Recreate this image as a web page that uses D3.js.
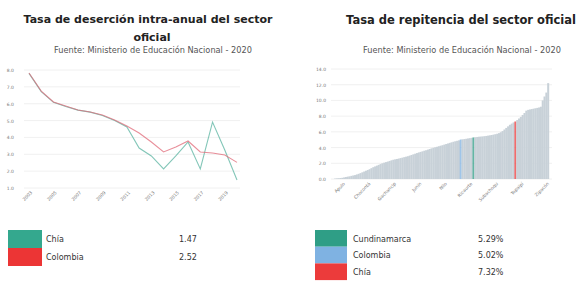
<!DOCTYPE html>
<html>
<head>
<meta charset="utf-8">
<script src="https://cdn.jsdelivr.net/npm/d3@7"></script>
<style>
  body { margin: 0; background: #fff; }
  text { font-family: "DejaVu Sans", sans-serif; }
</style>
</head>
<body>
<div id="chart"></div>
<script>
// left chart: intra-annual dropout
var years = ["2003","2004","2005","2006","2007","2008","2009","2010","2011",
             "2012","2013","2014","2015","2016","2017","2018","2019","2020"];
var colombia = [7.82, 6.75, 6.10, 5.86, 5.63, 5.51, 5.33, 5.03, 4.68,
                4.26, 3.73, 3.14, 3.43, 3.79, 3.14, 3.08, 2.96, 2.52];
var chia = [7.80, 6.72, 6.08, 5.84, 5.62, 5.50, 5.30, 5.00, 4.62,
            3.37, 2.90, 2.13, 2.90, 3.73, 2.13, 4.91, 3.25, 1.47];
var leftTicks = [1, 2, 3, 4, 5, 6, 7, 8];
var leftLegendNames = ["Chía", "Colombia"];
var leftLegendValues = ["1.47", "2.52"];

// right chart: repetition rate
var munis = ["Agua de Dios","Albán","Anapoima","Anolaima","Apulo","Arbeláez","Beltrán","Bituima",
  "Bojacá","Cabrera","Cachipay","Cajicá","Caparrapí","Cáqueza","Carmen de Carupa","Chaguaní",
  "Chipaque","Choachí","Chocontá","Cogua","Cota","Cucunubá","El Colegio","El Peñón","El Rosal",
  "Facatativá","Fómeque","Fosca","Funza","Fúquene","Fusagasugá","Gachalá","Gachancipá","Gachetá",
  "Gama","Girardot","Granada","Guachetá","Guaduas","Guasca","Guataquí","Guatavita","Guayabal de Síquima",
  "Guayabetal","Gutiérrez","Jerusalén","Junín","La Calera","La Mesa","La Palma","La Peña","La Vega",
  "Lenguazaque","Machetá","Madrid","Manta","Medina","Mosquera","Nariño","Nemocón","Nilo","Nimaima",
  "Nocaima","Pacho","Paime","Pandi","Paratebueno","Pasca","Puerto Salgar","Pulí","Quebradanegra",
  "Quetame","Quipile","Ricaurte","San Antonio del Tequendama","San Bernardo","San Cayetano",
  "San Francisco","San Juan de Rioseco","Sasaima","Sesquilé","Sibaté","Silvania","Simijaca","Soacha",
  "Sopó","Subachoque","Suesca","Supatá","Susa","Sutatausa","Tabio","Tausa","Tena","Tenjo","Tibacuy",
  "Tibirita","Tocaima","Tocancipá","Topaipí","Ubalá","Ubaque","Ubaté","Une","Útica","Venecia",
  "Vergara","Vianí","Villagómez","Villapinzón","Villeta","Viotá","Yacopí","Zipacón","Zipaquirá"];
var repValues = [
  0.05, 0.08, 0.10, 0.12, 0.15, 0.20, 0.25, 0.30, 0.34, 0.40,
  0.45, 0.50, 0.58, 0.66, 0.75, 0.85, 0.95, 1.05, 1.15, 1.25,
  1.38, 1.50, 1.60, 1.70, 1.80, 1.90, 2.00, 2.08, 2.15, 2.22,
  2.30, 2.38, 2.45, 2.50, 2.55, 2.60, 2.66, 2.72, 2.78, 2.84,
  2.90, 2.98, 3.06, 3.14, 3.22, 3.30, 3.38, 3.45, 3.52, 3.60,
  3.66, 3.74, 3.82, 3.90, 3.97, 4.04, 4.10, 4.17, 4.24, 4.30,
  4.38, 4.45, 4.52, 4.60, 4.67, 4.74, 4.80, 4.86, 4.92, 5.02,
  5.05, 5.08, 5.12, 5.16, 5.20, 5.24, 5.29, 5.32, 5.35, 5.38,
  5.40, 5.42, 5.45, 5.48, 5.52, 5.56, 5.60, 5.65, 5.70, 5.76,
  5.84, 5.95, 6.10, 6.30, 6.50, 6.70, 6.90, 7.05, 7.20, 7.32,
  7.50, 7.70, 7.90, 8.15, 8.40, 8.70, 8.80, 8.85, 8.90, 8.95,
  9.00, 9.05, 9.10, 9.20, 10.00, 10.50, 11.00, 12.20];
var rightTicks = [0, 2, 4, 6, 8, 10, 12, 14];
var rightLegendNames = ["Cundinamarca", "Colombia", "Chía"];
var rightLegendValues = ["5.29%", "5.02%", "7.32%"];

// build bar categories: municipalities plus the two aggregates, in value order
var repNames = munis.slice();
repNames.splice(69, 0, "Colombia");
repNames.splice(76, 0, "Cundinamarca");
repNames.splice(99, 0, "Chía");
var repData = repNames.map(function(n, i) { return {name: n, value: repValues[i]}; });

var highlight = {"Cundinamarca": "#2f9e86", "Colombia": "#7fb2e2", "Chía": "#ec3b3b"};
var teal = "#34a88e", red = "#ec3535";

var svg = d3.select("#chart").append("svg")
    .attr("width", 584).attr("height", 281);

// ---------- left chart ----------
svg.append("text").attr("x", 148).attr("y", 23).attr("text-anchor", "middle")
    .style("font-size", "11px").style("font-weight", "bold").attr("fill", "#222")
    .text("Tasa de deserción intra-anual del sector");
svg.append("text").attr("x", 152).attr("y", 41).attr("text-anchor", "middle")
    .style("font-size", "11px").style("font-weight", "bold").attr("fill", "#222")
    .text("oficial");
svg.append("text").attr("x", 153).attr("y", 53).attr("text-anchor", "middle")
    .style("font-size", "8.2px").attr("fill", "#555")
    .text("Fuente: Ministerio de Educación Nacional - 2020");

var xL = d3.scalePoint().domain(years).range([29, 237]);
var yL = d3.scaleLinear().domain([1, 8]).range([188, 70]);

svg.append("g").selectAll("line").data(leftTicks).enter().append("line")
    .attr("x1", 24).attr("x2", 240)
    .attr("y1", function(d) { return yL(d); }).attr("y2", function(d) { return yL(d); })
    .attr("stroke", "#ececec").attr("stroke-width", 0.8);

var axL = svg.append("g").attr("transform", "translate(17,0)")
    .call(d3.axisLeft(yL).tickValues(leftTicks).tickSize(0).tickFormat(d3.format(".1f")));
axL.select(".domain").remove();
axL.selectAll("text").style("font-size", "4.5px").attr("fill", "#777");

var axLB = svg.append("g").attr("transform", "translate(0,190)")
    .call(d3.axisBottom(xL).tickSize(0)
      .tickValues(years.filter(function(d, i) { return i % 2 === 0; })));
axLB.select(".domain").remove();
axLB.selectAll("text").style("font-size", "4.5px").attr("fill", "#777")
    .attr("text-anchor", "end").attr("dx", "0").attr("dy", "0.3em")
    .attr("transform", "rotate(-45)");

var line = d3.line()
    .x(function(d, i) { return xL(years[i]); })
    .y(function(d) { return yL(d); });

svg.append("path").datum(chia).attr("d", line).attr("fill", "none")
    .attr("stroke", "#6dbcab").attr("stroke-width", 1.1).attr("stroke-opacity", 0.85);
svg.append("path").datum(colombia).attr("d", line).attr("fill", "none")
    .attr("stroke", "#e06a78").attr("stroke-width", 1.1).attr("stroke-opacity", 0.75);

// left legend
var legL = svg.append("g");
legL.selectAll("rect").data(leftLegendNames).enter().append("rect")
    .attr("x", 8).attr("y", function(d, i) { return 230 + i * 18; })
    .attr("width", 34).attr("height", 18)
    .attr("fill", function(d, i) { return i === 0 ? teal : red; });
legL.selectAll("text.n").data(leftLegendNames).enter().append("text").attr("class", "n")
    .attr("x", 46).attr("y", function(d, i) { return 242 + i * 18; })
    .style("font-size", "8px").attr("fill", "#333").text(function(d) { return d; });
legL.selectAll("text.v").data(leftLegendValues).enter().append("text").attr("class", "v")
    .attr("x", 179).attr("y", function(d, i) { return 242 + i * 18; })
    .style("font-size", "8px").attr("fill", "#333").text(function(d) { return d; });

// ---------- right chart ----------
svg.append("text").attr("x", 461).attr("y", 24).attr("text-anchor", "middle")
    .style("font-size", "11.5px").style("font-weight", "bold").attr("fill", "#222")
    .text("Tasa de repitencia del sector oficial");
svg.append("text").attr("x", 462).attr("y", 53).attr("text-anchor", "middle")
    .style("font-size", "8.2px").attr("fill", "#555")
    .text("Fuente: Ministerio de Educación Nacional - 2020");

var xR = d3.scaleBand().domain(repNames).range([334, 549]).padding(0);
var yR = d3.scaleLinear().domain([0, 14]).range([179, 69]);

svg.append("g").selectAll("line").data(rightTicks).enter().append("line")
    .attr("x1", 331).attr("x2", 552)
    .attr("y1", function(d) { return yR(d); }).attr("y2", function(d) { return yR(d); })
    .attr("stroke", "#ececec").attr("stroke-width", 0.8);

var axR = svg.append("g").attr("transform", "translate(329,0)")
    .call(d3.axisLeft(yR).tickValues(rightTicks).tickSize(0).tickFormat(d3.format(".1f")));
axR.select(".domain").remove();
axR.selectAll("text").style("font-size", "4.5px").attr("fill", "#777");

svg.append("g").selectAll("rect").data(repData).enter().append("rect")
    .attr("x", function(d) { return xR(d.name); })
    .attr("y", function(d) { return yR(d.value); })
    .attr("width", xR.bandwidth() + 0.2)
    .attr("height", function(d) { return yR(0) - yR(d.value); })
    .attr("fill", function(d) { return highlight[d.name] || "#c8d1d8"; })
    .attr("fill-opacity", function(d) { return highlight[d.name] ? 0.75 : 1; });

var axRB = svg.append("g").attr("transform", "translate(0,181)")
    .call(d3.axisBottom(xR).tickSize(0)
      .tickValues(repNames.filter(function(d, i) { return i % 14 === 4; })));
axRB.select(".domain").remove();
axRB.selectAll("text").style("font-size", "4.5px").attr("fill", "#777")
    .attr("text-anchor", "end").attr("dx", "0").attr("dy", "0.3em")
    .attr("transform", "rotate(-45)")
    .text(function(d) { return d.length > 9 ? d.slice(0, 9) : d; });

// right legend
var legColors = [highlight["Cundinamarca"], highlight["Colombia"], highlight["Chía"]];
var legR = svg.append("g");
legR.selectAll("rect").data(rightLegendNames).enter().append("rect")
    .attr("x", 315).attr("y", function(d, i) { return 230 + i * 16.7; })
    .attr("width", 32).attr("height", 16.7)
    .attr("fill", function(d, i) { return legColors[i]; });
legR.selectAll("text.n").data(rightLegendNames).enter().append("text").attr("class", "n")
    .attr("x", 353).attr("y", function(d, i) { return 241.5 + i * 16.7; })
    .style("font-size", "8px").attr("fill", "#333").text(function(d) { return d; });
legR.selectAll("text.v").data(rightLegendValues).enter().append("text").attr("class", "v")
    .attr("x", 478).attr("y", function(d, i) { return 241.5 + i * 16.7; })
    .style("font-size", "8px").attr("fill", "#333").text(function(d) { return d; });
</script>
</body>
</html>
